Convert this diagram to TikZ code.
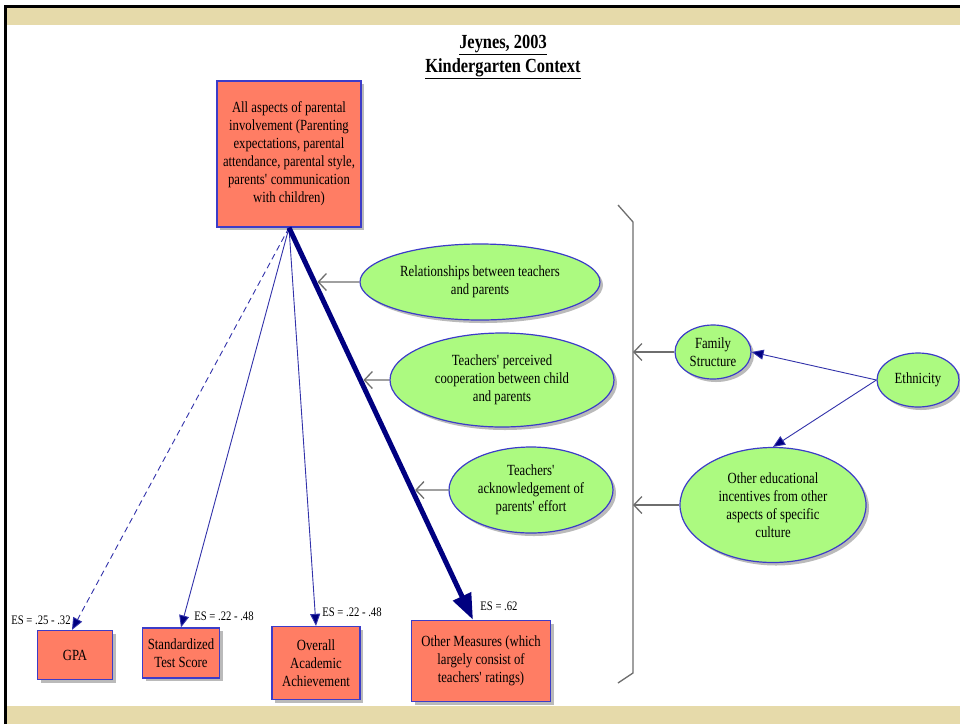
\documentclass[tikz,border=0pt]{standalone}
\usepackage{fontspec}
\setmainfont{Liberation Serif}[FakeStretch=0.82]
\usetikzlibrary{shapes.geometric,arrows.meta,shadows}

\definecolor{salmon}{RGB}{255,125,100}
\definecolor{leaf}{RGB}{172,250,128}
\definecolor{edgeblue}{RGB}{60,60,200}
\definecolor{darknavy}{RGB}{0,0,128}
\definecolor{linkblue}{RGB}{50,50,170}
\definecolor{parch}{RGB}{230,218,170}
\definecolor{greyline}{RGB}{110,110,110}

% straight apostrophe
\newcommand{\sq}{\textquotesingle}

\tikzset{
  bodytext/.style={font=\fontsize{15.5}{18}\selectfont},
  box/.style={rectangle, draw=edgeblue, line width=1.3pt, fill=salmon,
    drop shadow={shadow xshift=3pt, shadow yshift=-3pt, fill=black!45, opacity=0.6},
    align=center, inner sep=0pt, bodytext},
  ell/.style={ellipse, draw=edgeblue, line width=1.2pt, fill=leaf,
    drop shadow={shadow xshift=3pt, shadow yshift=-3pt, fill=black!45, opacity=0.6},
    align=center, inner sep=0pt, bodytext},
  eslabel/.style={font=\fontsize{13}{14}\selectfont, inner sep=0pt},
  link/.style={draw=linkblue, line width=0.9pt,
    -{Triangle[length=12pt,width=10pt,fill=darknavy]}},
  heavy/.style={draw=darknavy, line width=5pt,
    -{Triangle[length=26pt,width=19pt,fill=darknavy]}},
  feed/.style={draw=greyline, line width=1.3pt,
    -{Straight Barb[length=8pt,width=17pt]}},
}

\begin{document}
\begin{tikzpicture}[x=1pt,y=-1pt]
\useasboundingbox (0,0) rectangle (960,724);
% slide frame
\fill[white] (0,0) rectangle (960,724);
\fill[parch] (7,8) rectangle (960,25);
\fill[parch] (7,706) rectangle (960,724);
\draw[line width=3pt] (5.5,724) -- (5.5,6.5) -- (960,6.5);

% heading
\node[font=\bfseries\fontsize{20}{24}\selectfont, align=center] (title) at (503,57)
  {\underline{Jeynes, 2003}\\\underline{Kindergarten Context}};

% source box
\node[box, minimum width=144pt, minimum height=146pt] (pi) at (289,154)
  {All aspects of parental\\involvement (Parenting\\expectations, parental\\attendance, parental style,\\parents\sq{} communication\\with children)};

% outcome boxes
\node[box, minimum width=75pt, minimum height=49pt] (gpa) at (75,655) {GPA};
\node[box, minimum width=77pt, minimum height=50pt] (sts) at (181,653) {Standardized\\Test Score};
\node[box, minimum width=88pt, minimum height=73pt] (oaa) at (316,663) {Overall\\Academic\\Achievement};
\node[box, minimum width=139pt, minimum height=81pt] (om) at (481,661) {Other Measures (which\\largely consist of\\teachers\sq{} ratings)};

% effect sizes
\node[eslabel] (es1) at (41,620) {ES = .25 - .32};
\node[eslabel] (es2) at (224,616) {ES = .22 - .48};
\node[eslabel] (es3) at (352,612) {ES = .22 - .48};
\node[eslabel] (es4) at (499,606) {ES = .62};

% moderators
\node[ell, minimum width=240pt, minimum height=76pt] (m1) at (480,282)
  {Relationships between teachers\\and parents};
\node[ell, minimum width=224pt, minimum height=94pt] (m2) at (502,380)
  {Teachers\sq{} perceived\\cooperation between child\\and parents};
\node[ell, minimum width=164pt, minimum height=86pt] (m3) at (531,490)
  {Teachers\sq\\acknowledgement of\\parents\sq{} effort};

\node[ell, minimum width=76pt, minimum height=54pt] (fs) at (713,352) {Family\\Structure};
\node[ell, minimum width=82pt, minimum height=54pt] (eth) at (918,380) {Ethnicity};
\node[ell, minimum width=186pt, minimum height=115pt] (oe) at (773,505)
  {Other educational\\incentives from other\\aspects of specific\\culture};

% links to outcomes
\coordinate (omtip) at ([xshift=-8pt]om.north);
\draw[link, dashed, dash pattern=on 6pt off 4pt] (pi.south) -- ([xshift=-3pt]gpa.north);
\draw[link] (pi.south) -- (sts.north);
\draw[link] (pi.south) -- (oaa.north);
\draw[heavy] (pi.south) -- (omtip);

% moderators acting on the main path
\coordinate (h1) at (intersection of pi.south--omtip and m1.west--m1.east);
\coordinate (h2) at (intersection of pi.south--omtip and m2.west--m2.east);
\coordinate (h3) at (intersection of pi.south--omtip and m3.west--m3.east);
\draw[feed] (m1.west) -- ([xshift=3pt]h1);
\draw[feed] (m2.west) -- ([xshift=3pt]h2);
\draw[feed] (m3.west) -- ([xshift=3pt]h3);

% bracket grouping the moderators
\coordinate (bt) at (633,222);
\coordinate (bb) at (633,673);
\draw[greyline, line width=1.3pt] (618,205) -- (bt) -- (bb) -- (618,683);
\draw[feed] (fs.west) -- (fs.west -| bt);
\draw[feed] (oe.west) -- (oe.west -| bt);

% ethnicity
\draw[link] (eth.west) -- (fs.east);
\draw[link] (eth.west) -- (oe.north);
\end{tikzpicture}
\end{document}
